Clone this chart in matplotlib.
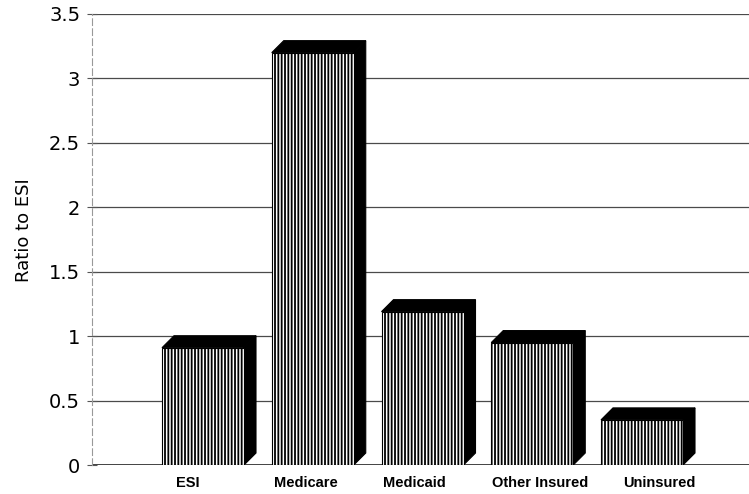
import matplotlib
matplotlib.use("Agg")
import matplotlib.pyplot as plt
from matplotlib.patches import Polygon, Rectangle

categories = ["ESI", "Medicare", "Medicaid", "Other Insured", "Uninsured"]
ratios = [0.91, 3.20, 1.19, 0.95, 0.35]
yticks = [0, 0.5, 1, 1.5, 2, 2.5, 3, 3.5]
ytick_labels = ["0", "0.5", "1", "1.5", "2", "2.5", "3", "3.5"]

plt.rcParams["font.family"] = ["Liberation Sans", "DejaVu Sans"]
plt.rcParams["hatch.linewidth"] = 1.3
plt.rcParams["hatch.color"] = "black"

W, H, DPI = 749, 494, 100
fig = plt.figure(figsize=(W / DPI, H / DPI), dpi=DPI)
ax_left, ax_right, ax_bottom, ax_top = 92, 749, 465, 14
ax = fig.add_axes([ax_left / W, (H - ax_bottom) / H,
                   (ax_right - ax_left) / W, (ax_bottom - ax_top) / H])

slot = 109.75  # pixels between bar centres
xmin = (ax_left - 203) / slot
xmax = (ax_right - 203) / slot
ax.set_xlim(xmin, xmax)
ax.set_ylim(0, 3.5)

px_per_y = (ax_bottom - ax_top) / 3.5
bar_w = 82 / slot
dx = 12 / slot
dy = 12 / px_per_y

# gridlines
for t in yticks[1:]:
    ax.axhline(t, color="#4a4a4a", lw=0.9, zorder=1)
ax.axhline(0, color="#222222", lw=1.2, zorder=1)

for i, v in enumerate(ratios):
    x0 = i - bar_w / 2
    x1 = i + bar_w / 2
    # side face
    ax.add_patch(Polygon([(x1, 0), (x1 + dx, dy), (x1 + dx, v + dy), (x1, v)],
                         closed=True, facecolor="black", edgecolor="black",
                         lw=0.8, zorder=3))
    # top face
    ax.add_patch(Polygon([(x0, v), (x0 + dx, v + dy), (x1 + dx, v + dy), (x1, v)],
                         closed=True, facecolor="black", edgecolor="black",
                         lw=0.8, zorder=3))
    # striped front face
    ax.add_patch(Rectangle((x0, 0), bar_w, v, facecolor="white",
                           edgecolor="black", hatch="|||||", lw=0.8, zorder=4))

ax.set_yticks(yticks)
ax.set_yticklabels(ytick_labels, fontsize=14, family="DejaVu Sans")
ax.tick_params(axis="y", direction="inout", length=7, width=0.8,
               color="#555555", pad=5)
ax.set_xticks([])

for s in ["top", "right", "bottom"]:
    ax.spines[s].set_visible(False)
ax.spines["left"].set_color("#999999")
ax.spines["left"].set_linewidth(0.8)
ax.spines["left"].set_linestyle((0, (6, 3)))

# category labels below each bar
label_nudge = [-15, -7, -8, 8, 17]
for i, (name, nd) in enumerate(zip(categories, label_nudge)):
    ax.annotate(name, xy=(i, 0), xycoords="data",
                xytext=(nd * 72 / DPI, -18 * 72 / DPI), textcoords="offset points",
                ha="center", va="center", fontsize=10.5, fontweight="bold",
                annotation_clip=False)

fig.text(24 / W, 1 - 230 / H, "Ratio to ESI", rotation=90, ha="center",
         va="center", fontsize=13, family="DejaVu Sans")

fig.savefig("out.png", dpi=DPI)
